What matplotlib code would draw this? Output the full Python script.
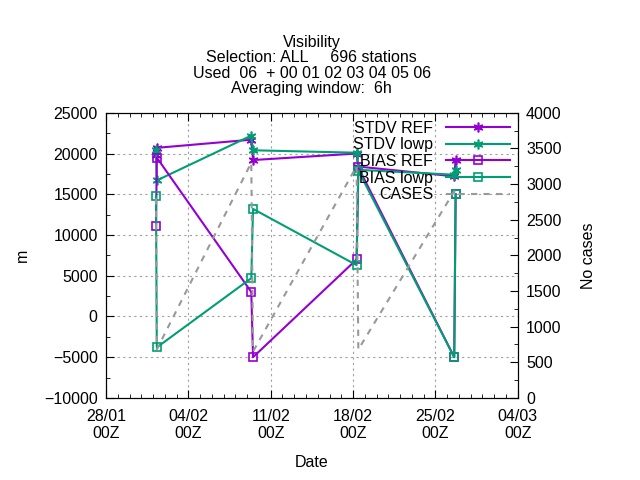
import matplotlib
matplotlib.use('Agg')
import matplotlib.pyplot as plt
from matplotlib.ticker import MultipleLocator

plt.rcParams['font.family'] = ['Liberation Sans', 'DejaVu Sans']
plt.rcParams['font.size'] = 11.5

# days since 28/01 00Z
days = [4.25, 4.32, 12.35, 12.5, 21.3, 21.45, 29.6, 29.72]
stdv_ref = [19800, 20700, 21700, 19200, 20000, 18400, 17200, 19200]
stdv_lowp = [20400, 16700, 22200, 20400, 20100, 18000, 17400, 18000]
bias_ref = [11100, 19500, 3000, -5000, 7000, 18300, -5000, 15000]
bias_lowp = [14800, -3800, 4700, 13200, 6300, 17900, -5000, 15000]
cases = [2800, 680, 3300, 650, 3250, 680, 2900, 2800]
tick_days = [0, 7, 14, 21, 28, 35]
tick_labels = ['28/01\n00Z', '04/02\n00Z', '11/02\n00Z', '18/02\n00Z', '25/02\n00Z', '04/03\n00Z']

purple = '#9400D3'
green = '#009E73'
gray = '#999999'
star = (6, 2, 0)

fig = plt.figure(figsize=(6.4, 4.8), dpi=100)
ax = fig.add_axes([0.1656, 0.171, 0.6434, 0.594])
ax2 = ax.twinx()

l1, = ax.plot(days, stdv_ref, color=purple, lw=1.5, marker=star, ms=7, mew=1.2, label='STDV REF')
l2, = ax.plot(days, stdv_lowp, color=green, lw=1.5, marker=star, ms=7, mew=1.2, label='STDV lowp')
l3, = ax.plot(days, bias_ref, color=purple, lw=1.5, marker='s', ms=6, mfc='none', mew=1.2, label='BIAS REF')
l4, = ax.plot(days, bias_lowp, color=green, lw=1.5, marker='s', ms=6, mfc='none', mew=1.2, label='BIAS lowp')
l5, = ax2.plot(days, cases, color=gray, lw=1.5, ls=(0, (3, 3)), label='CASES')

ax.set_xlim(0, 35)
ax.set_ylim(-10000, 25000)
ax2.set_ylim(0, 4000)
ax.set_xticks(tick_days)
ax.set_xticklabels(tick_labels)
ax.xaxis.set_minor_locator(MultipleLocator(1))
ax.yaxis.set_major_locator(MultipleLocator(5000))
ax.yaxis.set_minor_locator(MultipleLocator(2500))
ax2.yaxis.set_major_locator(MultipleLocator(500))
ax2.yaxis.set_minor_locator(MultipleLocator(250))
ax.grid(True, color='#a0a0a0', ls=(0, (2, 3)), lw=0.8)
for a in (ax, ax2):
    a.tick_params(direction='in', which='both', top=True, pad=6)
    a.tick_params(which='minor', length=3)
    a.tick_params(which='major', length=6)
ax.tick_params(axis='y', which='both', right=False)
ax.tick_params(axis='x', pad=8)

ax.set_xlabel('Date', labelpad=10)
ax.set_ylabel('m', labelpad=10)
ax2.set_ylabel('No cases', labelpad=14)
ax.set_title('Visibility\nSelection: ALL     696 stations\nUsed  06  + 00 01 02 03 04 05 06\nAveraging window:  6h',
             fontsize=11.5, linespacing=1.05, pad=14)

leg = ax.legend(handles=[l1, l2, l3, l4, l5], loc='upper right', frameon=False,
                markerfirst=False, handlelength=4, borderaxespad=0.1,
                labelspacing=0.1, fontsize=11.5)
for t in leg.get_texts():
    t.set_ha('right')

fig.savefig('out.png', dpi=100)
